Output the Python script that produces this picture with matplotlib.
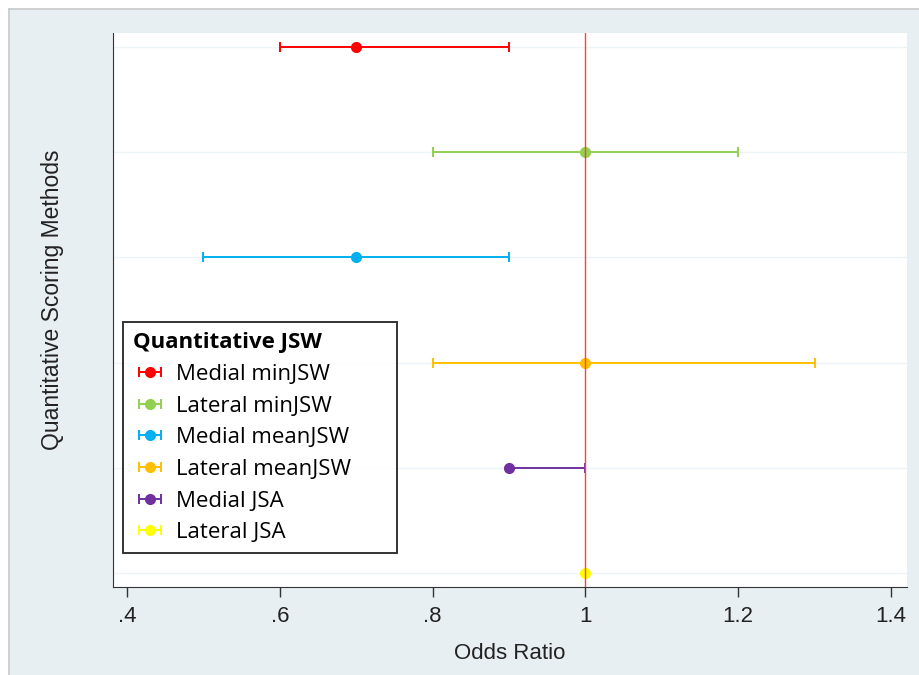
import numpy as np
import matplotlib.pyplot as plt
from matplotlib.patches import Rectangle

# odds ratios with confidence limits, one row per scoring method
methods = ["Medial minJSW", "Lateral minJSW", "Medial meanJSW",
           "Lateral meanJSW", "Medial JSA", "Lateral JSA"]
odds = [0.7, 1.0, 0.7, 1.0, 0.9, 1.0]
lower = [0.6, 0.8, 0.5, 0.8, 0.9, 1.0]
upper = [0.9, 1.2, 0.9, 1.3, 1.0, 1.0]
colors = ["#ff0000", "#92d050", "#00b0f0", "#ffc000", "#7030a0", "#ffff00"]
xticks = [0.4, 0.6, 0.8, 1.0, 1.2, 1.4]
xticklabels = [".4", ".6", ".8", "1", "1.2", "1.4"]

fig = plt.figure(figsize=(9.19, 6.75), dpi=100, facecolor="white")

# light background panel with a thin grey frame on top / left
fig.patches.append(Rectangle((10 / 919, 0), 909 / 919, 1 - 9 / 675,
                             transform=fig.transFigure, facecolor="#e8eff2",
                             edgecolor="none", zorder=-10))
fig.lines.append(plt.Line2D([9 / 919, 1], [1 - 8.5 / 675] * 2,
                            transform=fig.transFigure, color="#c8c8c8",
                            lw=1.2, zorder=-9))
fig.lines.append(plt.Line2D([9 / 919] * 2, [0, 1 - 8.5 / 675],
                            transform=fig.transFigure, color="#c8c8c8",
                            lw=1.2, zorder=-9))

ax = fig.add_axes([113 / 919, 1 - 587 / 675, 794 / 919, 554 / 675])
ax.set_facecolor("white")

y = np.arange(1, len(methods) + 1)
for i in range(len(methods)):
    ax.errorbar(odds[i], y[i],
                xerr=[[odds[i] - lower[i]], [upper[i] - odds[i]]],
                fmt="o", color=colors[i], ecolor=colors[i], markersize=7,
                elinewidth=1.4, capsize=3.8, capthick=1.4, label=methods[i],
                zorder=3)

ax.axvline(1.0, color="#ff4040", lw=1.0, zorder=4)

for yy in y:
    ax.axhline(yy, color="#eef3f5", lw=1.0, zorder=1)

ax.set_xlim(0.3817, 1.421)
ax.set_ylim(6.133, 0.867)
ax.set_yticks([])
ax.set_xticks(xticks)
ax.set_xticklabels(xticklabels, fontsize=16, color="#222222",
                   family="Liberation Sans")
ax.tick_params(axis="x", length=7, width=1, color="#333333", pad=7)

for s in ["top", "right"]:
    ax.spines[s].set_visible(False)
ax.spines["left"].set_color("#333333")
ax.spines["bottom"].set_color("#333333")

ax.set_xlabel("Odds Ratio", fontsize=16, color="#222222",
              family="Liberation Sans", labelpad=11)
ax.set_ylabel("Quantitative Scoring Methods", fontsize=16.5, color="#222222",
              family="Liberation Sans")
ax.yaxis.set_label_coords(-0.062, 0.518)

# legend box stretched to a fixed width inside the bbox
leg = ax.legend(title="Quantitative JSW", loc="upper left",
                bbox_to_anchor=(0.0126, 0.0, 0.345, 0.478), mode="expand",
                borderaxespad=0, frameon=True, fancybox=False,
                prop={"family": "Open Sans", "size": 16},
                title_fontproperties={"family": "Open Sans", "size": 16,
                                      "weight": "bold"},
                handlelength=1.5, handletextpad=0.45, labelspacing=0.48,
                borderpad=0.45, alignment="left")
leg.get_frame().set_edgecolor("black")
leg.get_frame().set_linewidth(1.4)
leg.set_zorder(5)

fig.savefig("out.png", dpi=100, facecolor=fig.get_facecolor())
